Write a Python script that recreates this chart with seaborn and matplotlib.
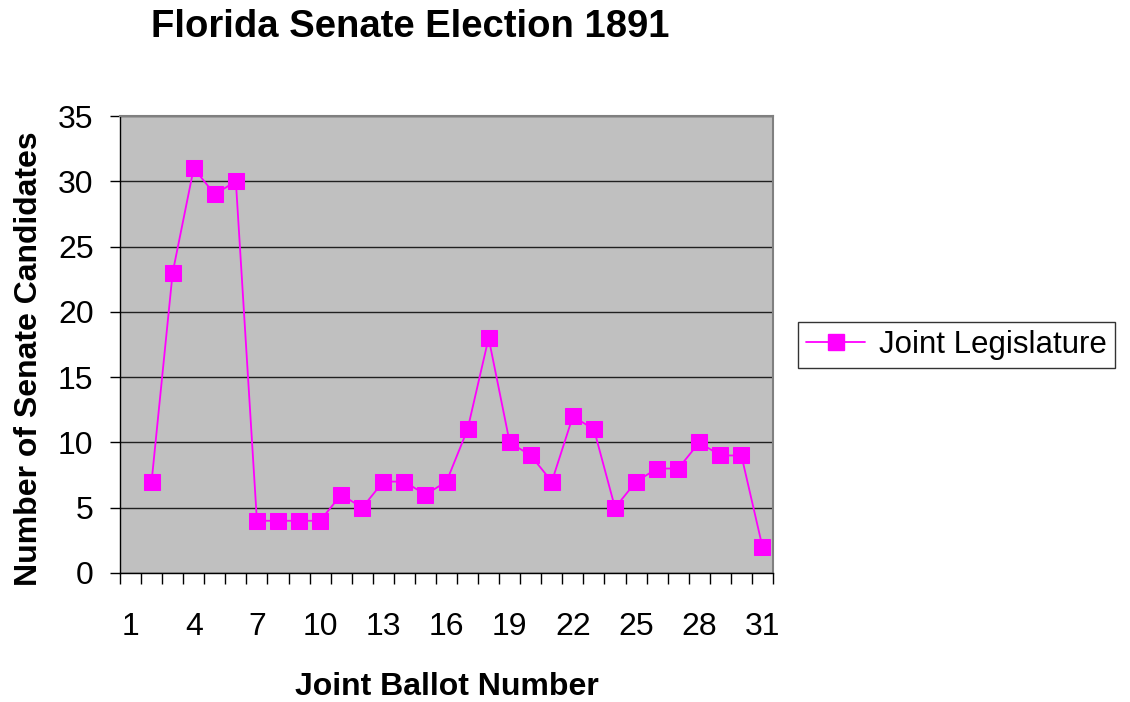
import pandas as pd
import matplotlib
matplotlib.use("Agg")
import matplotlib.pyplot as plt
import seaborn as sns

# 1891 joint ballots (ballot 1 has no value)
ballots = [2, 3, 4, 5, 6, 7, 8, 9, 10, 11, 12, 13, 14, 15, 16,
           17, 18, 19, 20, 21, 22, 23, 24, 25, 26, 27, 28, 29, 30, 31]
candidates = [7, 23, 31, 29, 30, 4, 4, 4, 4, 6, 5, 7, 7, 6, 7,
              11, 18, 10, 9, 7, 12, 11, 5, 7, 8, 8, 10, 9, 9, 2]
tick_labels = [1, 4, 7, 10, 13, 16, 19, 22, 25, 28, 31]
series_name = "Joint Legislature"

df = pd.DataFrame({"ballot": ballots, "candidates": candidates, "series": series_name})

sns.set_style("white")
plt.rcParams["font.family"] = ["Liberation Sans", "DejaVu Sans"]
plt.rcParams["text.color"] = "black"
plt.rcParams["axes.labelcolor"] = "black"
plt.rcParams["xtick.color"] = "black"
plt.rcParams["ytick.color"] = "black"

fig = plt.figure(figsize=(11.3, 7.02), dpi=100)
ax = fig.add_axes([120 / 1130, 129 / 702, 653 / 1130, 457 / 702])
ax.set_facecolor("#C0C0C0")

sns.lineplot(data=df, x="ballot", y="candidates", hue="series",
             palette=["#FF00FF"], marker="s", markersize=11, linewidth=1.3,
             markeredgecolor="#FF00FF", ax=ax, legend=False)

# y axis
ax.set_ylim(0, 35)
ax.set_yticks(range(0, 36, 5))
ax.yaxis.grid(True, color="#202020", linewidth=1)
ax.set_axisbelow(True)
ax.tick_params(axis="y", direction="out", length=7, width=1, color="black",
               pad=12, labelsize=23, left=True)

# x axis: ticks at category boundaries, labels every third ballot
ax.set_xlim(0.5, 31.5)
ax.set_xticks([b + 0.5 for b in range(0, 32)])
ax.set_xticklabels([])
ax.set_xticks(tick_labels, minor=True)
ax.set_xticklabels([str(t) for t in tick_labels], minor=True)
ax.tick_params(axis="x", which="major", direction="out", length=8, width=1,
               color="black", bottom=True)
ax.tick_params(axis="x", which="minor", length=0, pad=28, labelsize=23)

for side in ["top", "right"]:
    ax.spines[side].set_color("#808080")
    ax.spines[side].set_linewidth(1.5)
for side in ["left", "bottom"]:
    ax.spines[side].set_color("black")
    ax.spines[side].set_linewidth(1)

ax.set_xlabel("Joint Ballot Number", fontsize=23, fontweight="bold", labelpad=22)
ax.set_ylabel("Number of Senate Candidates", fontsize=23, fontweight="bold", labelpad=10)
ax.yaxis.label.set_y(0.47)

fig.text(410 / 1130, 1 - 27 / 702, "Florida Senate Election 1891",
         fontsize=27.5, fontweight="bold", ha="center", va="center")

handle = plt.Line2D([], [], color="#FF00FF", marker="s", markersize=11,
                    linewidth=1.3, markeredgecolor="#FF00FF")
leg = fig.legend([handle], [series_name], loc="lower left",
                 bbox_to_anchor=(798 / 1130, 1 - 368 / 702),
                 fontsize=22.5, frameon=True, fancybox=False, handlelength=1.9,
                 borderpad=0.25, handletextpad=0.45, borderaxespad=0)
leg.get_frame().set_edgecolor("black")
leg.get_frame().set_linewidth(1)

fig.savefig("out.png", dpi=100)
plt.close()
